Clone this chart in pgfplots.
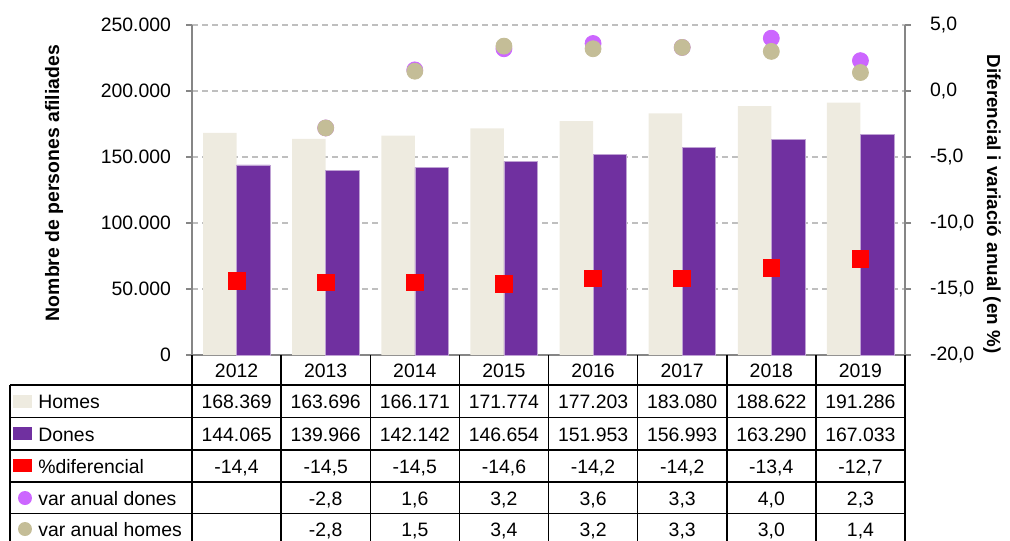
\documentclass[border=0pt]{standalone}
\usepackage{pgfplots}
\pgfplotsset{compat=1.18}
\usepackage{fontspec}
\setmainfont{Liberation Sans}
\definecolor{homes}{HTML}{EEEBE0}
\definecolor{dones}{HTML}{7030A0}
\definecolor{vdones}{HTML}{CC66FF}
\definecolor{vhomes}{HTML}{C4BD97}
\definecolor{gridc}{HTML}{BFBFBF}
\definecolor{axg}{HTML}{868686}
\newcommand\fs{\fontsize{9.7}{11.6}\selectfont}
\begin{document}
\begin{tikzpicture}[x=0.5pt,y=-0.5pt]
\useasboundingbox (0,0) rectangle (1010,540);
\clip (0,0) rectangle (1010,540);
\coordinate (O) at (192,355);
\pgfplotsset{common/.style={at={(O)}, anchor=south west, scale only axis,
  width=356.5pt, height=165pt, xmin=-0.5, xmax=7.5,
  tick align=outside, major tick length=3pt,
  tick style={axg, line width=0.6pt},
  axis line style={axg, line width=0.7pt},
  ticklabel style={font=\fs},
  /pgf/number format/assume math mode=true, clip=false}}
\begin{axis}[common, axis y line*=left, axis x line*=bottom, xtick=\empty,
  ymin=0, ymax=250000, ytick={0,50000,100000,150000,200000,250000},
  scaled y ticks=false,
  yticklabel style={xshift=-4pt, /pgf/number format/.cd, fixed, precision=0, 1000 sep={.}},
  ymajorgrids, grid style={gridc, dash pattern=on 3pt off 2pt, line width=0.6pt}]
\addplot[ybar, bar width=0.376, bar shift=-0.188, fill=homes, draw=none]
  coordinates {(0,168369) (1,163696) (2,166171) (3,171774) (4,177203) (5,183080) (6,188622) (7,191286)};
\addplot[ybar, bar width=0.376, bar shift=0.188, fill=dones, draw=dones!45!white, line width=0.3pt]
  coordinates {(0,144065) (1,139966) (2,142142) (3,146654) (4,151953) (5,156993) (6,163290) (7,167033)};
\end{axis}
\begin{axis}[common, axis y line*=right, axis x line=none,
  ymin=-20, ymax=5, ytick={-20,-15,-10,-5,0,5},
  yticklabel style={xshift=6pt, /pgf/number format/.cd, fixed, fixed zerofill, precision=1, use comma}]
\addplot[only marks, mark=square*, mark size=4.2pt, color=red]
  coordinates {(0,-14.4) (1,-14.5) (2,-14.5) (3,-14.6) (4,-14.2) (5,-14.2) (6,-13.4) (7,-12.7)};
\addplot[only marks, mark=*, mark size=4pt, color=vdones]
  coordinates {(1,-2.8) (2,1.6) (3,3.2) (4,3.6) (5,3.3) (6,4.0) (7,2.3)};
\addplot[only marks, mark=*, mark size=4pt, color=vhomes]
  coordinates {(1,-2.8) (2,1.5) (3,3.4) (4,3.2) (5,3.3) (6,3.0) (7,1.4)};
\end{axis}
% axis titles
\node[rotate=90, font=\fs\bfseries] at (54,183) {Nombre de persones afiliades};
\node[rotate=-90, font=\fontsize{9.4}{11}\selectfont\bfseries] at (992,204) {Diferencial i variació anual (en \%)};
% data table
\foreach \k in {0,...,8} {\draw[line width=0.75pt] ({192+89.125*\k},355) -- ({192+89.125*\k},560);}
\draw[line width=0.75pt] (10,385) -- (10,560);
\foreach \yy in {385,417.5,450,482,513.5,545} {\draw[line width=0.75pt] (10,\yy) -- (905,\yy);}
\foreach \v [count=\i from 0] in {2012,2013,2014,2015,2016,2017,2018,2019}
  {\node[font=\fs, anchor=base] at ({192+89.125*\i+44.56},377) {\v};}
\foreach \v [count=\i from 0] in {168.369,163.696,166.171,171.774,177.203,183.080,188.622,191.286}
  {\node[font=\fs, anchor=base] at ({192+89.125*\i+44.56},408.5) {\v};}
\foreach \v [count=\i from 0] in {144.065,139.966,142.142,146.654,151.953,156.993,163.290,167.033}
  {\node[font=\fs, anchor=base] at ({192+89.125*\i+44.56},441) {\v};}
\foreach \v [count=\i from 0] in {{-14,4},{-14,5},{-14,5},{-14,6},{-14,2},{-14,2},{-13,4},{-12,7}}
  {\node[font=\fs, anchor=base] at ({192+89.125*\i+44.56},473) {\v};}
\foreach \v [count=\i from 1] in {{-2,8},{1,6},{3,2},{3,6},{3,3},{4,0},{2,3}}
  {\node[font=\fs, anchor=base] at ({192+89.125*\i+44.56},505) {\v};}
\foreach \v [count=\i from 1] in {{-2,8},{1,5},{3,4},{3,2},{3,3},{3,0},{1,4}}
  {\node[font=\fs, anchor=base] at ({192+89.125*\i+44.56},536) {\v};}
% legend keys
\fill[homes] (13,395) rectangle (32,408);
\fill[dones] (13,427) rectangle (32,440);
\fill[red] (13,459) rectangle (32,472);
\fill[vdones] (25,498) circle (7);
\fill[vhomes] (25,529) circle (7);
\node[font=\fs, anchor=base west, inner sep=0pt] at (38,408.5) {Homes};
\node[font=\fs, anchor=base west, inner sep=0pt] at (38,441) {Dones};
\node[font=\fs, anchor=base west, inner sep=0pt] at (38,473) {\%diferencial};
\node[font=\fs, anchor=base west, inner sep=0pt] at (38,505) {var anual dones};
\node[font=\fs, anchor=base west, inner sep=0pt] at (38,536) {var anual homes};
\end{tikzpicture}
\end{document}
